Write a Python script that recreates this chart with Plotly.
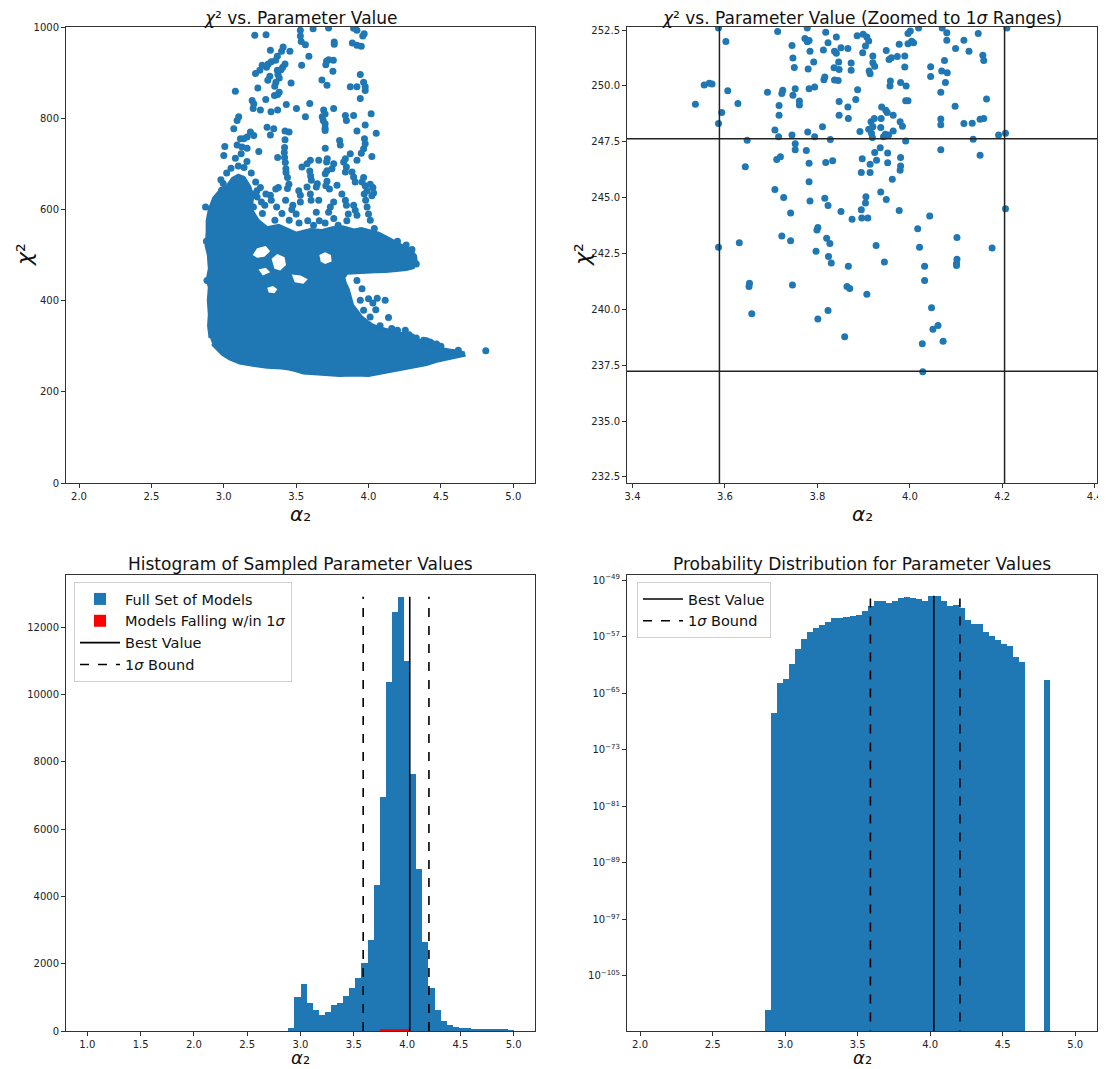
import plotly.graph_objects as go

BLUE = "#1f77b4"
FONT = "DejaVu Sans"

# ---------------- Data ----------------
best_value = 4.025
sigma_low = 3.588
sigma_high = 4.205
chi2_min = 237.23
chi2_1sigma = 247.64

# top-left: dense core outline (alpha2, chi2) of the sampled models
core_x = [2.905, 2.895, 2.90, 2.893, 2.90, 2.885, 2.90, 2.893, 2.878, 2.885, 2.885, 2.90, 2.93, 2.97,
          3.02, 3.06, 3.10, 3.14, 3.18, 3.20, 3.19, 3.24, 3.30, 3.38, 3.45, 3.50, 3.55, 3.60,
          3.68, 3.75, 3.82, 3.90, 3.95, 4.02, 4.07, 4.12, 4.17, 4.22, 4.26, 4.30, 4.325, 4.33, 4.31,
          4.26, 4.20, 4.12, 4.05, 3.97, 3.90, 3.85, 3.83, 3.84, 3.86, 3.875, 3.89, 3.92, 3.95, 3.99,
          4.03, 4.08, 4.14, 4.19, 4.24, 4.30, 4.35, 4.40, 4.45, 4.52, 4.60, 4.655, 4.66, 4.60, 4.55,
          4.47, 4.40, 4.30, 4.20, 4.12, 4.05, 4.00, 3.90, 3.80, 3.70, 3.60, 3.55, 3.50, 3.45, 3.40,
          3.30, 3.20, 3.11, 3.04, 2.99, 2.95, 2.92]
core_y = [318, 345, 370, 400, 430, 445, 470, 500, 520, 550, 575, 600, 625, 640,
          650, 668, 675, 670, 650, 630, 600, 575, 560, 565, 555, 548, 552, 556,
          554, 560, 562, 555, 558, 553, 548, 540, 532, 524, 516, 508, 498, 485, 472,
          468, 466, 464, 463, 462, 462, 460, 450, 438, 425, 405, 390, 378, 365, 355,
          346, 340, 336, 331, 327, 320, 313, 306, 300, 294, 290, 286, 280, 276, 272,
          267, 260, 254, 247, 243, 239, 236, 237, 236, 238, 239, 241, 246, 250, 252,
          254, 258, 263, 272, 282, 295, 305]

# gaps inside the dense core
holes = [
    ([3.20, 3.23, 3.29, 3.32, 3.28, 3.23], [500, 515, 520, 508, 496, 494]),
    ([3.33, 3.37, 3.42, 3.43, 3.39, 3.35], [492, 502, 495, 478, 466, 470]),
    ([3.24, 3.29, 3.32, 3.27], [468, 472, 462, 455]),
    ([3.47, 3.53, 3.58, 3.55, 3.49], [457, 455, 447, 437, 440]),
    ([3.66, 3.70, 3.74, 3.745, 3.70, 3.67], [500, 506, 500, 486, 480, 485]),
    ([3.30, 3.34, 3.37, 3.35, 3.31], [428, 432, 425, 416, 418]),
]

# top-left: individual sampled models outside the dense core
pts = [
    (3.214, 982), (3.292, 983), (3.529, 993), (3.529, 980), (3.535, 968), (3.617, 996), (3.724, 998),
    (3.897, 997), (3.92, 993), (3.763, 967), (3.763, 962), (3.564, 961), (3.888, 965), (3.92, 960),
    (3.95, 958), (3.96, 980), (3.97, 985), (3.322, 949), (3.41, 956), (3.399, 947), (3.457, 947),
    (3.588, 936), (3.37, 936), (3.358, 927), (3.328, 924), (3.307, 919), (3.295, 912), (3.423, 919),
    (3.407, 912), (3.395, 906), (3.538, 916), (3.71, 925), (3.724, 928), (3.757, 927), (3.705, 917),
    (3.265, 916), (3.249, 905), (3.219, 898), (3.754, 903), (3.37, 905), (3.374, 896), (3.383, 888),
    (3.36, 879), (3.352, 870), (3.318, 892), (3.304, 883), (3.465, 877), (3.678, 884), (3.713, 872),
    (3.943, 896), (3.966, 879), (3.977, 869), (3.977, 861), (3.874, 869), (3.92, 869), (3.235, 866),
    (3.08, 859), (3.383, 857), (3.372, 852), (3.943, 843), (3.196, 839), (3.207, 831), (3.203, 821),
    (3.29, 841), (3.35, 850), (3.432, 830), (3.502, 821), (3.594, 832), (3.253, 818), (3.326, 814),
    (3.372, 818), (3.103, 803), (3.092, 795), (3.069, 777), (3.564, 803), (3.69, 818), (3.70, 809),
    (3.68, 803), (3.687, 795), (3.70, 788), (3.70, 778), (3.70, 773), (3.759, 821), (3.84, 806),
    (3.847, 795), (3.897, 806), (4.018, 810), (3.977, 785), (3.92, 772), (4.053, 767), (3.299, 780),
    (3.345, 777), (3.322, 763), (3.423, 772), (3.451, 770), (3.423, 753), (3.184, 770), (3.207, 762),
    (3.161, 759), (3.138, 755), (3.115, 755), (3.092, 741), (3.126, 737), (3.161, 734), (3.007, 738),
    (3.0, 718), (3.242, 727), (3.372, 714), (3.42, 736), (3.418, 725), (3.42, 714), (3.425, 703),
    (3.429, 689), (3.701, 734), (3.8, 751), (3.805, 741), (3.874, 722), (3.95, 723), (3.966, 733),
    (3.977, 744), (3.972, 755), (4.023, 716), (3.715, 711), (3.71, 704), (3.598, 708), (3.575, 700),
    (3.54, 693), (3.656, 708), (3.84, 711), (3.828, 704), (3.92, 708), (3.759, 700), (3.747, 689),
    (3.713, 685), (3.701, 678), (3.847, 693), (3.84, 682), (3.43, 681), (3.44, 670), (3.45, 655),
    (3.44, 646), (3.594, 684), (3.6, 673), (3.605, 664), (3.646, 656), (3.639, 649), (3.713, 662),
    (3.705, 652), (3.73, 645), (3.782, 653), (3.886, 682), (3.966, 670), (3.955, 660), (3.977, 652),
    (3.989, 641), (4.012, 655), (4.03, 648), (4.035, 636), (4.023, 630), (3.897, 671), (3.908, 660),
    (3.377, 648), (3.359, 645), (3.322, 631), (3.253, 648), (3.23, 641), (3.207, 634), (3.184, 626),
    (3.518, 641), (3.529, 631), (3.529, 616), (3.575, 649), (3.598, 634), (3.603, 620), (3.639, 594),
    (3.656, 620), (3.724, 594), (3.736, 605), (3.759, 616), (3.816, 634), (3.84, 620), (3.847, 609),
    (3.897, 609), (3.908, 598), (3.92, 587), (3.97, 634), (3.98, 620), (3.99, 605), (4.0, 590),
    (4.012, 576), (4.04, 558), (2.996, 657), (2.985, 642), (2.874, 605), (3.26, 616), (3.283, 609),
    (3.23, 627), (3.291, 634), (3.328, 620), (3.365, 605), (3.402, 591), (3.427, 620), (3.477, 609),
    (3.267, 591), (3.205, 605), (3.353, 576), (3.452, 576), (3.50, 590), (3.47, 600), (3.52, 570),
    (3.58, 575), (3.62, 565), (3.66, 575), (3.70, 570), (3.76, 580), (3.85, 575), (3.86, 590),
    (3.79, 565), (4.115, 401), (4.138, 363), (4.0, 404), (4.196, 327), (4.254, 335), (4.38, 313),
    (4.425, 309), (3.966, 379), (4.011, 364), (3.943, 401), (3.92, 444), (3.955, 426), (4.03, 395),
    (4.06, 405), (4.05, 380), (4.08, 345), (4.16, 339), (4.30, 320), (4.47, 305), (4.50, 300),
    (4.81, 290), (4.58, 286), (4.62, 291), (4.30, 512), (4.26, 522), (4.20, 530), (4.33, 480),
    (3.05, 690), (3.10, 695), (3.14, 692), (3.08, 712), (3.16, 705), (3.02, 680), (2.98, 665),
    (3.19, 680), (3.22, 660), (3.12, 722), (2.884, 444), (2.88, 530), (4.20, 335), (4.33, 318),
    (4.40, 312), (4.44, 306), (4.28, 325),
]
scatter_alpha = [p[0] for p in pts]
scatter_chi2 = [p[1] for p in pts]

# top-right: models near the 1-sigma window
zoom_pts = [
    (3.536, 249.18), (3.555, 250.04), (3.566, 250.12), (3.572, 250.09), (3.586, 252.6), (3.586, 248.32),
    (3.586, 242.78), (3.593, 248.81), (3.602, 251.99), (3.606, 249.79), (3.628, 249.22), (3.631, 242.98),
    (3.644, 246.38), (3.648, 247.57), (3.652, 241.03), (3.653, 241.17), (3.658, 239.81), (3.692, 249.72),
    (3.708, 245.37), (3.708, 248.03), (3.714, 252.44), (3.712, 246.71), (3.717, 248.69), (3.717, 249.13),
    (3.716, 247.73), (3.72, 246.83), (3.723, 249.66), (3.725, 249.81), (3.723, 243.28), (3.727, 245.01),
    (3.742, 243.07), (3.742, 244.31), (3.745, 251.81), (3.745, 247.81), (3.746, 241.09), (3.747, 251.25),
    (3.75, 250.83), (3.747, 249.58), (3.752, 249.88), (3.752, 247.42), (3.752, 247.15), (3.761, 249.33),
    (3.761, 249.15), (3.773, 252.13), (3.778, 251.98), (3.782, 252.04), (3.778, 252.6), (3.78, 250.76),
    (3.776, 247.11), (3.779, 247.94), (3.782, 249.88), (3.784, 251.56), (3.782, 246.54), (3.782, 245.71),
    (3.784, 244.85), (3.792, 251.07), (3.794, 247.73), (3.794, 249.95), (3.797, 242.6), (3.799, 243.55),
    (3.801, 243.67), (3.801, 239.57), (3.811, 248.17), (3.813, 251.61), (3.814, 250.28), (3.816, 250.4),
    (3.818, 252.41), (3.818, 246.57), (3.816, 244.97), (3.82, 243.19), (3.823, 251.93), (3.823, 244.65),
    (3.824, 242.37), (3.823, 239.95), (3.827, 242.95), (3.828, 247.6), (3.83, 242.08), (3.833, 246.65),
    (3.836, 250.82), (3.837, 251.56), (3.841, 252.19), (3.841, 251.46), (3.837, 250.27), (3.845, 250.25),
    (3.846, 251.07), (3.847, 250.74), (3.847, 249.3), (3.847, 248.69), (3.851, 251.71), (3.851, 244.38),
    (3.866, 251.68), (3.866, 249.06), (3.867, 248.55), (3.873, 251.03), (3.873, 250.7), (3.875, 244.03),
    (3.864, 241.02), (3.87, 240.93), (3.867, 241.93), (3.859, 238.78), (3.883, 249.4), (3.886, 252.25),
    (3.887, 249.83), (3.892, 247.96), (3.895, 246.13), (3.897, 246.74), (3.895, 244.46), (3.896, 244.09),
    (3.898, 251.49), (3.899, 252.31), (3.904, 251.79), (3.905, 245.04), (3.904, 244.76), (3.907, 240.68),
    (3.909, 244.09), (3.907, 252.19), (3.911, 252.01), (3.912, 250.67), (3.914, 250.55), (3.914, 246.5),
    (3.914, 246.13), (3.911, 248.06), (3.916, 248.4), (3.917, 247.88), (3.919, 247.69), (3.92, 248.17),
    (3.923, 248.55), (3.92, 251.34), (3.92, 251.04), (3.924, 250.88), (3.927, 242.86), (3.924, 247.02),
    (3.928, 246.68), (3.936, 247.24), (3.937, 248.14), (3.937, 245.25), (3.939, 249.06), (3.938, 248.54),
    (3.943, 247.73), (3.945, 242.12), (3.948, 248.91), (3.951, 248.81), (3.947, 247.84), (3.949, 251.59),
    (3.949, 244.92), (3.952, 247.0), (3.952, 246.56), (3.955, 251.19), (3.957, 250.0), (3.958, 250.22),
    (3.96, 251.26), (3.962, 245.83), (3.964, 248.69), (3.964, 247.99), (3.954, 247.81), (3.973, 251.32),
    (3.977, 251.87), (3.979, 248.4), (3.98, 250.16), (3.98, 246.8), (3.979, 246.23), (3.98, 246.42),
    (3.977, 244.43), (3.984, 248.2), (3.989, 251.34), (3.989, 250.85), (3.991, 247.54), (3.991, 249.34),
    (3.992, 250.0), (3.996, 249.34), (3.996, 252.35), (3.996, 251.89), (4.001, 252.46), (4.004, 252.0),
    (4.008, 251.93), (4.019, 252.6), (4.017, 243.61), (4.021, 242.78), (4.027, 238.46), (4.028, 237.21),
    (4.032, 241.93), (4.032, 241.29), (4.043, 244.18), (4.045, 250.86), (4.045, 250.42), (4.047, 240.07),
    (4.05, 239.11), (4.061, 239.28), (4.067, 249.72), (4.067, 248.52), (4.067, 248.26), (4.067, 247.15),
    (4.069, 250.67), (4.07, 252.6), (4.072, 238.58), (4.075, 251.14), (4.077, 250.16), (4.08, 252.38),
    (4.08, 252.05), (4.081, 250.59), (4.098, 249.09), (4.099, 251.68), (4.102, 243.22), (4.102, 242.25),
    (4.101, 242.06), (4.101, 241.96), (4.117, 252.05), (4.117, 248.32), (4.128, 251.56), (4.135, 248.33),
    (4.137, 247.62), (4.148, 252.35), (4.152, 246.9), (4.152, 248.51), (4.158, 251.38), (4.16, 251.14),
    (4.16, 248.54), (4.166, 249.42), (4.178, 242.75), (4.192, 247.81), (4.207, 247.88), (4.207, 244.5),
    (4.21, 252.6),
]
zoom_alpha = [p[0] for p in zoom_pts]
zoom_chi2 = [p[1] for p in zoom_pts]

# bottom-left: histogram, 70 bins between 1.0 and 5.0
hist_lo, hist_hi, hist_nbins = 1.0, 5.0, 70
hist_counts = [0] * 33 + [
    90, 1000, 1400, 830, 630, 490, 550, 770, 830, 1040, 1270, 1560, 2030, 2700, 4330, 6960,
    10360, 12440, 12900, 10980, 7640, 4810, 2650, 1280, 630, 310, 170, 105, 85, 80, 55, 55,
    50, 50, 50, 45, 20]
# models within the 1-sigma window (bins 48..52)
sigma_counts = [0] * 48 + [30, 40, 40, 40, 30] + [0] * 17

# bottom-right: probability distribution (log10 values), 47 bins from 2.859
prob_lo, prob_width = 2.859, 0.0418
log_prob = [-109.8, -67.8, -63.6, -63.0, -60.9, -58.8, -57.4, -56.4, -55.8, -55.4, -54.9, -54.4,
            -54.3, -54.2, -54.1, -53.9, -53.4, -52.6, -51.96, -51.96, -52.2, -51.96, -51.6, -51.4,
            -51.5, -51.7, -51.96, -51.2, -51.3, -51.9, -52.7, -52.5, -52.9, -54.6, -55.2, -55.2,
            -56.4, -56.9, -57.5, -58.0, -58.3, -59.9, -60.6, None, None, None, -63.1]

# ---------------- Figure ----------------
# the page body has an 8px margin, so the figure is drawn 8px smaller and offset
OFF = 8
W, H = 1106 - OFF, 1069 - OFF
def px(x): return (x - OFF) / W
def py(y): return 1 - (y - OFF) / H

LX = [66, 535]
RX = [627, 1097]
TY = [27, 483]
BY = [575, 1031]

fig = go.Figure()

# top-left
fig.add_trace(go.Scatter(x=core_x, y=core_y, fill="toself", fillcolor=BLUE, mode="lines",
                         line=dict(color=BLUE, width=3), xaxis="x", yaxis="y", showlegend=False,
                         hoverinfo="skip"))
for hx, hy in holes:
    fig.add_trace(go.Scatter(x=hx, y=hy, fill="toself", fillcolor="white", mode="lines",
                             line=dict(color="white", width=0), xaxis="x", yaxis="y",
                             showlegend=False, hoverinfo="skip"))
fig.add_trace(go.Scatter(x=scatter_alpha, y=scatter_chi2, mode="markers",
                         marker=dict(color=BLUE, size=7, line=dict(width=0)),
                         xaxis="x", yaxis="y", showlegend=False))

# top-right
fig.add_trace(go.Scatter(x=zoom_alpha, y=zoom_chi2, mode="markers",
                         marker=dict(color=BLUE, size=7, line=dict(width=0)),
                         xaxis="x2", yaxis="y2", showlegend=False))

# bottom-left
hw = (hist_hi - hist_lo) / hist_nbins
centers = [hist_lo + (i + 0.5) * hw for i in range(hist_nbins)]
fig.add_trace(go.Bar(x=centers, y=hist_counts, width=hw, marker=dict(color=BLUE, line=dict(width=0)),
                     name="Full Set of Models", xaxis="x3", yaxis="y3", legend="legend"))
fig.add_trace(go.Bar(x=centers, y=sigma_counts, width=hw, marker=dict(color="red", line=dict(width=0)),
                     name="Models Falling w/in 1<i>σ</i>", xaxis="x3", yaxis="y3", legend="legend"))
cmax = max(hist_counts)
fig.add_trace(go.Scatter(x=[best_value, best_value], y=[0, cmax], mode="lines",
                         line=dict(color="black", width=1.6), name="Best Value",
                         xaxis="x3", yaxis="y3", legend="legend"))
fig.add_trace(go.Scatter(x=[sigma_low, sigma_low, None, sigma_high, sigma_high],
                         y=[0, cmax, None, 0, cmax], mode="lines",
                         line=dict(color="black", width=1.6, dash="dash"), name="1<i>σ</i> Bound",
                         xaxis="x3", yaxis="y3", legend="legend"))

# bottom-right
pc = [prob_lo + (i + 0.5) * prob_width for i in range(len(log_prob))]
pv = [None if v is None else 10 ** v for v in log_prob]
fig.add_trace(go.Bar(x=pc, y=pv, width=prob_width, marker=dict(color=BLUE, line=dict(width=0)),
                     xaxis="x4", yaxis="y4", showlegend=False))
pmax = 10 ** max(v for v in log_prob if v is not None)
fig.add_trace(go.Scatter(x=[best_value, best_value], y=[1e-114, pmax], mode="lines",
                         line=dict(color="black", width=1.6), name="Best Value",
                         xaxis="x4", yaxis="y4", legend="legend2"))
fig.add_trace(go.Scatter(x=[sigma_low, sigma_low, None, sigma_high, sigma_high],
                         y=[1e-114, pmax, None, 1e-114, pmax], mode="lines",
                         line=dict(color="black", width=1.6, dash="dash"), name="1<i>σ</i> Bound",
                         xaxis="x4", yaxis="y4", legend="legend2"))

axis_common = dict(showline=True, mirror=True, linecolor="#333", linewidth=1, ticks="outside",
                   ticklen=4, tickwidth=1, tickcolor="#333", showgrid=False, zeroline=False,
                   tickfont=dict(family=FONT, size=10, color="#222"), automargin=False)

fig.update_layout(
    width=W, height=H, margin=dict(l=0, r=0, t=0, b=0),
    paper_bgcolor="white", plot_bgcolor="white", barmode="overlay", bargap=0,
    font=dict(family=FONT, color="#111"),
    xaxis=dict(domain=[px(LX[0]), px(LX[1])], anchor="y", range=[1.91, 5.15],
               tickvals=[2.0, 2.5, 3.0, 3.5, 4.0, 4.5, 5.0], tickformat=".1f", **axis_common),
    yaxis=dict(domain=[py(TY[1]), py(TY[0])], anchor="x", range=[0, 1000],
               tickvals=[0, 200, 400, 600, 800, 1000], **axis_common),
    xaxis2=dict(domain=[px(RX[0]), px(RX[1])], anchor="y2", range=[sigma_low - 0.2, sigma_high + 0.2],
                tickvals=[3.4, 3.6, 3.8, 4.0, 4.2, 4.4], tickformat=".1f", **axis_common),
    yaxis2=dict(domain=[py(TY[1]), py(TY[0])], anchor="x2", range=[chi2_min - 5, chi2_1sigma + 5],
                tickvals=[232.5, 235, 237.5, 240, 242.5, 245, 247.5, 250, 252.5], tickformat=".1f",
                **axis_common),
    xaxis3=dict(domain=[px(LX[0]), px(LX[1])], anchor="y3", range=[0.8, 5.2],
                tickvals=[1.0, 1.5, 2.0, 2.5, 3.0, 3.5, 4.0, 4.5, 5.0], tickformat=".1f", **axis_common),
    yaxis3=dict(domain=[py(BY[1]), py(BY[0])], anchor="x3", range=[0, cmax * 1.05],
                tickvals=[0, 2000, 4000, 6000, 8000, 10000, 12000], tickformat="d", **axis_common),
    xaxis4=dict(domain=[px(RX[0]), px(RX[1])], anchor="y4", range=[1.91, 5.15],
                tickvals=[2.0, 2.5, 3.0, 3.5, 4.0, 4.5, 5.0], tickformat=".1f", **axis_common),
    yaxis4=dict(domain=[py(BY[1]), py(BY[0])], anchor="x4", type="log", range=[-112.8, -48.28],
                tickvals=[10.0 ** e for e in [-49, -57, -65, -73, -81, -89, -97, -105]],
                ticktext=["10<sup>−%d</sup>" % e for e in [49, 57, 65, 73, 81, 89, 97, 105]],
                **axis_common),
    legend=dict(x=px(LX[0] + 8), y=py(BY[0] + 7), xanchor="left", yanchor="top",
                bgcolor="rgba(255,255,255,0.85)", bordercolor="#d0d0d0", borderwidth=1,
                font=dict(family=FONT, size=14.5, color="#111"), traceorder="normal",
                tracegroupgap=0, itemwidth=40),
    legend2=dict(x=px(RX[0] + 10), y=py(BY[0] + 7), xanchor="left", yanchor="top",
                 bgcolor="rgba(255,255,255,0.85)", bordercolor="#d0d0d0", borderwidth=1,
                 font=dict(family=FONT, size=14.5, color="#111"), traceorder="normal",
                 tracegroupgap=0, itemwidth=40),
)

# top-right reference lines
line_style = dict(color="#222", width=1.5)
fig.add_shape(type="line", xref="x2", yref="y2 domain", x0=sigma_low, x1=sigma_low, y0=0, y1=1, line=line_style)
fig.add_shape(type="line", xref="x2", yref="y2 domain", x0=sigma_high, x1=sigma_high, y0=0, y1=1, line=line_style)
fig.add_shape(type="line", xref="x2 domain", yref="y2", x0=0, x1=1, y0=chi2_1sigma, y1=chi2_1sigma, line=line_style)
fig.add_shape(type="line", xref="x2 domain", yref="y2", x0=0, x1=1, y0=chi2_min, y1=chi2_min, line=line_style)

# titles and axis labels
def ann(text, x, y, size, xanchor="center", yanchor="middle", angle=0):
    fig.add_annotation(text=text, x=px(x), y=py(y), xref="paper", yref="paper", showarrow=False,
                       xanchor=xanchor, yanchor=yanchor, textangle=angle,
                       font=dict(family=FONT, size=size, color="#111"))

lc = (LX[0] + LX[1]) / 2
rc = (RX[0] + RX[1]) / 2
ann("<i>χ</i>² vs. Parameter Value", lc, 18, 17)
ann("<i>χ</i>² vs. Parameter Value (Zoomed to 1<i>σ</i> Ranges)", rc, 18, 17)
ann("Histogram of Sampled Parameter Values", lc, 564, 17)
ann("Probability Distribution for Parameter Values", rc, 564, 17)
for cx in (lc, rc):
    ann("<i>α</i>₂", cx, 514, 20)
    ann("<i>α</i>₂", cx, 1057.5, 18)
ann("<i>χ</i>²", 24, 255, 22, angle=-90)
ann("<i>χ</i>²", 582, 255, 22, angle=-90)

fig.write_html("out.html")
